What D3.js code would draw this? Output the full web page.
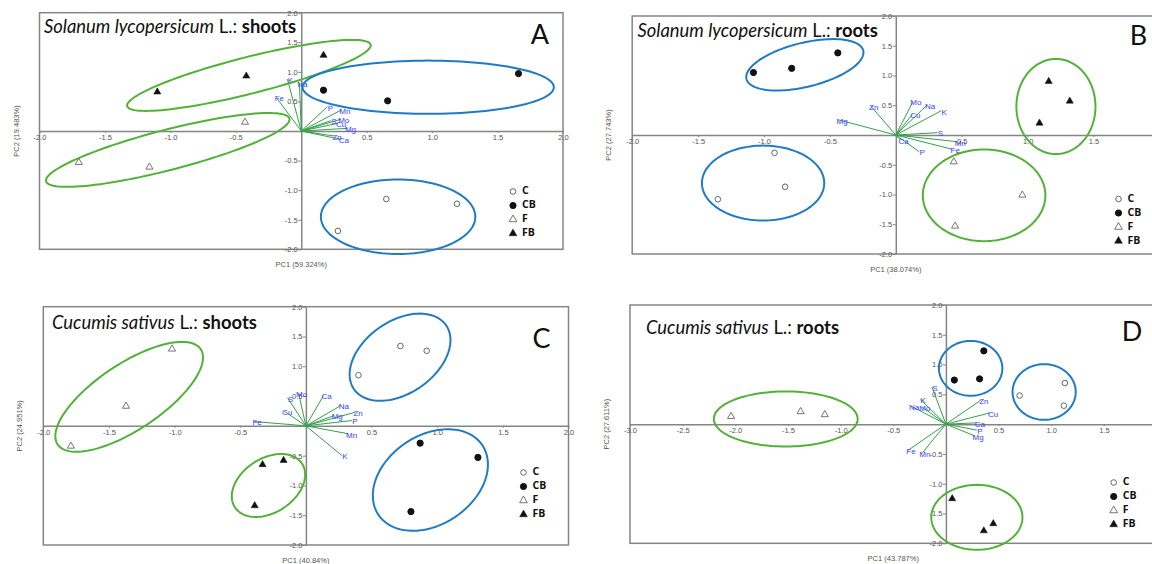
<!DOCTYPE html>
<html><head><meta charset="utf-8">
<script src="https://cdn.jsdelivr.net/npm/d3@7"></script>
<style>body{margin:0;background:#fff}svg{display:block}</style>
</head><body>
<svg id="chart" width="1152" height="564"></svg>
<script>
// ================= DATA =================
const groups = ["C", "CB", "F", "FB"];
const yTicks = [-2, -1.5, -1, -0.5, 0.5, 1, 1.5, 2];
const xTicks = [-2, -1.5, -1, -0.5, 0.5, 1, 1.5, 2];
const xTicksD = [-3, -2.5, -2, -1.5, -1, -0.5, 0.5, 1, 1.5, 2];

// Panel A : Solanum lycopersicum L. shoots
const aTitle = ["Solanum lycopersicum", " L.: ", "shoots"];
const aAxisLabels = ["PC1 (59.324%)", "PC2 (19.483%)"];
const aC  = [[0.28, -1.69], [0.65, -1.15], [1.19, -1.23]];
const aCB = [[0.17, 0.69], [0.66, 0.51], [1.66, 0.97]];
const aF  = [[-1.70, -0.53], [-1.16, -0.61], [-0.43, 0.15]];
const aFB = [[-1.10, 0.66], [-0.42, 0.93], [0.17, 1.28]];
const aLoadings = [["K", -0.106, 0.876], ["Na", -0.014, 0.808], ["Fe", -0.19, 0.565], ["P", 0.20, 0.41],
  ["Mn", 0.31, 0.36], ["Mo", 0.302, 0.198], ["S", 0.226, 0.175], ["Cu", 0.282, 0.13],
  ["Mg", 0.353, 0.045], ["Zn", 0.251, -0.085], ["Ca", 0.302, -0.141]];
// ellipses: group, centre x, centre y, half-axis vector u, half-axis vector v (data units)
const aEllipses = [["FB", -0.40, 0.94, 0.93, 0.52, 0.035, -0.30], ["F", -1.02, -0.32, 0.93, 0.53, 0.038, -0.33],
  ["CB", 0.97, 0.74, 0.96, 0, 0, 0.45], ["C", 0.74, -1.45, 0.59, 0, 0, 0.63]];

// Panel B : Solanum lycopersicum L. roots
const bTitle = ["Solanum lycopersicum", " L.: ", "roots"];
const bAxisLabels = ["PC1 (38.074%)", "PC2 (27.743%)"];
const bC  = [[-0.92, -0.30], [-0.84, -0.87], [-1.35, -1.08]];
const bCB = [[-1.08, 1.05], [-0.79, 1.12], [-0.44, 1.38]];
const bF  = [[0.44, -0.45], [0.96, -1.01], [0.45, -1.53]];
const bFB = [[1.16, 0.90], [1.32, 0.57], [1.09, 0.20]];
const bLoadings = [["Zn", -0.19, 0.487], ["Mg", -0.43, 0.252], ["Mo", 0.13, 0.56], ["Cu", 0.126, 0.348],
  ["Na", 0.238, 0.504], ["K", 0.345, 0.408], ["S", 0.316, 0.039], ["Mn", 0.466, -0.113],
  ["Fe", 0.428, -0.24], ["Ca", 0.036, -0.084], ["P", 0.177, -0.28]];
const bEllipses = [["CB", -0.69, 1.18, 0.443, 0.239, 0.039, -0.36], ["C", -1.007, -0.808, 0.464, 0, 0, 0.63],
  ["FB", 1.215, 0.479, 0.30, 0, 0, 0.80], ["F", 0.67, -1.014, 0.465, 0, 0, 0.77]];

// Panel C : Cucumis sativus L. shoots
const cTitle = ["Cucumis sativus", " L.: ", "shoots"];
const cAxisLabels = ["PC1 (40.84%)", "PC2 (24.951%)"];
const cC  = [[0.40, 0.85], [0.72, 1.34], [0.92, 1.26]];
const cCB = [[0.87, -0.29], [1.31, -0.53], [0.80, -1.44]];
const cF  = [[-1.02, 1.29], [-1.37, 0.33], [-1.79, -0.34]];
const cFB = [[-0.33, -0.65], [-0.17, -0.58], [-0.39, -1.34]];
const cLoadings = [["Fe", -0.394, 0.072], ["Cu", -0.165, 0.245], ["S", -0.14, 0.47], ["Mo", -0.056, 0.547],
  ["Ca", 0.134, 0.508], ["Na", 0.266, 0.34], ["Mg", 0.216, 0.173], ["Zn", 0.375, 0.228],
  ["P", 0.35, 0.089], ["Mn", 0.325, -0.134], ["K", 0.274, -0.498]];
const cEllipses = [["F", -1.346, 0.487, 0.545, 0.799, 0.139, -0.461], ["FB", -0.285, -1.001, 0.256, 0.366, 0.112, -0.381],
  ["C", 0.717, 1.152, 0.35, 0.539, 0.158, -0.495], ["CB", 0.948, -0.909, 0.395, 0.586, 0.19, -0.619]];

// Panel D : Cucumis sativus L. roots
const dTitle = ["Cucumis sativus", " L.: ", "roots"];
const dAxisLabels = ["PC1 (43.787%)", "PC2 (27.611%)"];
const dC  = [[0.70, 0.48], [1.13, 0.69], [1.12, 0.31]];
const dCB = [[0.36, 1.23], [0.08, 0.74], [0.32, 0.76]];
const dF  = [[-2.04, 0.13], [-1.38, 0.21], [-1.15, 0.16]];
const dFB = [[0.06, -1.25], [0.36, -1.79], [0.45, -1.67]];
const dLoadings = [["S", -0.133, 0.626], ["K", -0.244, 0.414], ["Mo", -0.228, 0.29], ["Na", -0.33, 0.30],
  ["Zn", 0.332, 0.403], ["Cu", 0.42, 0.19], ["Ca", 0.294, 0.022], ["P", 0.294, -0.1],
  ["Mg", 0.278, -0.201], ["Fe", -0.36, -0.44], ["Mn", -0.228, -0.492]];
const dEllipses = [["F", -1.521, 0.087, 0.683, 0, 0, 0.462], ["CB", 0.235, 0.937, 0.301, 0, 0, 0.46],
  ["C", 0.933, 0.54, 0.30, 0, 0, 0.467], ["FB", 0.294, -1.564, 0.433, 0, 0, 0.545]];

// ================= DRAWING =================
const W = 1152;
const svg = d3.select("#chart");
svg.append("rect").attr("width", 1152).attr("height", 564).attr("fill", "#fff");

const GREEN = "#52b236", BLUE = "#1f7bc6", VEC = "#33a14a", LBL = "#3d3dff", AX = "#858585";
const groupColor = {C: BLUE, CB: BLUE, F: GREEN, FB: GREEN};
const tickFmt = v => (v < 0 ? "-" : "") + Math.abs(v).toFixed(1);

function marker(sel, grp, size) {
  if (grp === "C" || grp === "CB") {
    sel.append("circle").attr("r", grp === "C" ? 2.8 : 3.1)
      .attr("fill", grp === "C" ? "#fff" : "#111")
      .attr("stroke", grp === "C" ? "#666" : "#111").attr("stroke-width", 1);
  } else {
    sel.append("path").attr("d", d3.symbol(d3.symbolTriangle, size || 22)())
      .attr("fill", grp === "F" ? "#fff" : "#111")
      .attr("stroke", grp === "F" ? "#666" : "#111").attr("stroke-width", grp === "F" ? 0.9 : 0.5);
  }
}

function drawPanel(cfg) {
  const x = d3.scaleLinear().domain(cfg.xDomain).range([cfg.x0, cfg.x1]);
  const y = d3.scaleLinear().domain([-2, 2]).range([cfg.y1, cfg.y0]);
  const g = svg.append("g");

  // frame
  g.append("rect").attr("x", cfg.x0).attr("y", cfg.y0)
    .attr("width", cfg.x1 - cfg.x0).attr("height", cfg.y1 - cfg.y0)
    .attr("fill", "none").attr("stroke", AX).attr("stroke-width", 1.5);

  // zero axes (labels whose tick lies beyond the picture edge are not shown, as in the reference)
  const shownX = cfg.xTicks.filter(v => x(v) < W - 4);
  const xa = g.append("g").attr("transform", `translate(0,${y(0)})`)
    .call(d3.axisBottom(x).tickValues(shownX).tickFormat(tickFmt).tickSize(2).tickSizeOuter(0).tickPadding(2));
  const ya = g.append("g").attr("transform", `translate(${x(0)},0)`)
    .call(d3.axisLeft(y).tickValues(yTicks).tickFormat(tickFmt).tickSize(3).tickSizeOuter(0).tickPadding(0.5));
  [xa, ya].forEach(a => {
    a.select(".domain").attr("stroke", AX).attr("stroke-width", 1.5);
    a.selectAll(".tick line").attr("stroke", AX);
    a.selectAll(".tick text").attr("fill", "#555").style("font", "7.5px 'Liberation Sans', Arial, sans-serif");
  });

  // axis titles
  g.append("text").attr("x", (cfg.x0 + cfg.x1) / 2).attr("y", cfg.y1 + 18)
    .attr("text-anchor", "middle").attr("fill", "#555")
    .style("font", "7.5px 'Liberation Sans', Arial, sans-serif").text(cfg.axisLabels[0]);
  g.append("text").attr("transform", `translate(${cfg.x0 - 21},${(cfg.y0 + cfg.y1) / 2}) rotate(-90)`)
    .attr("text-anchor", "middle").attr("fill", "#555")
    .style("font", "7.5px 'Liberation Sans', Arial, sans-serif").text(cfg.axisLabels[1]);

  // loadings (biplot vectors)
  const lg = g.append("g");
  lg.selectAll("line").data(cfg.loadings).join("line")
    .attr("x1", x(0)).attr("y1", y(0)).attr("x2", d => x(d[1])).attr("y2", d => y(d[2]))
    .attr("stroke", VEC).attr("stroke-width", 1);
  lg.selectAll("text").data(cfg.loadings).join("text")
    .attr("x", d => x(d[1]) + 3).attr("y", d => y(d[2]) + 1).attr("dy", "0.35em")
    .attr("text-anchor", "middle").attr("fill", LBL)
    .style("font", "8px 'Liberation Sans', Arial, sans-serif").text(d => d[0]);

  // ellipses
  const line = d3.line().x(p => x(p[0])).y(p => y(p[1])).curve(d3.curveLinearClosed);
  g.selectAll("path.ell").data(cfg.ellipses).join("path").attr("class", "ell")
    .attr("d", e => line(d3.range(0, 120).map(i => {
      const t = i / 120 * 2 * Math.PI;
      return [e[1] + e[3] * Math.cos(t) + e[5] * Math.sin(t), e[2] + e[4] * Math.cos(t) + e[6] * Math.sin(t)];
    })))
    .attr("fill", "none").attr("stroke", e => groupColor[e[0]]).attr("stroke-width", 2);

  // scores
  groups.forEach((grp, gi) => {
    g.selectAll(null).data(cfg.scores[gi]).join("g")
      .attr("transform", d => `translate(${x(d[0])},${y(d[1])})`)
      .each(function () { marker(d3.select(this), grp); });
  });

  // legend
  groups.forEach((grp, i) => {
    const ly = cfg.legend[1] + i * 14;
    const s = g.append("g").attr("transform", `translate(${cfg.legend[0]},${ly})`);
    marker(s, grp, 26);
    g.append("text").attr("x", cfg.legend[0] + 9).attr("y", ly - 1).attr("dy", "0.35em")
      .attr("fill", "#111").style("font", "bold 10.5px 'Open Sans', 'Noto Sans', sans-serif").text(grp);
  });

  // title
  const t = g.append("text").attr("x", cfg.title[0]).attr("y", cfg.title[1]).attr("fill", "#111")
    .style("font-family", "Lato, 'Noto Sans', sans-serif").style("font-size", "18.4px");
  t.append("tspan").style("font-style", "italic").text(cfg.titleParts[0]);
  t.append("tspan").text(cfg.titleParts[1]);
  t.append("tspan").style("font-weight", "bold").text(cfg.titleParts[2]);

  // panel letter
  g.append("text").attr("x", cfg.letterPos[0]).attr("y", cfg.letterPos[1]).attr("text-anchor", "middle")
    .attr("fill", "#111").style("font", "27px Lato, 'Noto Sans', sans-serif").text(cfg.letter);
}

drawPanel({x0: 39.5, x1: 563, y0: 12.7, y1: 249.3, xDomain: [-2, 2], xTicks: xTicks,
  axisLabels: aAxisLabels, loadings: aLoadings, ellipses: aEllipses, scores: [aC, aCB, aF, aFB],
  legend: [513, 191.5], title: [44, 32.5], titleParts: aTitle, letter: "A", letterPos: [540, 44]});
drawPanel({x0: 632.2, x1: 1159.4, y0: 16, y1: 254, xDomain: [-2, 2], xTicks: xTicks,
  axisLabels: bAxisLabels, loadings: bLoadings, ellipses: bEllipses, scores: [bC, bCB, bF, bFB],
  legend: [1118.5, 199], title: [637.5, 37], titleParts: bTitle, letter: "B", letterPos: [1138.5, 45]});
drawPanel({x0: 43.3, x1: 568.5, y0: 306.7, y1: 545, xDomain: [-2, 2], xTicks: xTicks,
  axisLabels: cAxisLabels, loadings: cLoadings, ellipses: cEllipses, scores: [cC, cCB, cF, cFB],
  legend: [523.5, 472.5], title: [52, 328.5], titleParts: cTitle, letter: "C", letterPos: [541.5, 348]});
drawPanel({x0: 630, x1: 1156.5, y0: 305, y1: 543.3, xDomain: [-3, 2], xTicks: xTicksD,
  axisLabels: dAxisLabels, loadings: dLoadings, ellipses: dEllipses, scores: [dC, dCB, dF, dFB],
  legend: [1113.7, 482.5], title: [646, 333.5], titleParts: dTitle, letter: "D", letterPos: [1132, 341]});
</script>
</body></html>
